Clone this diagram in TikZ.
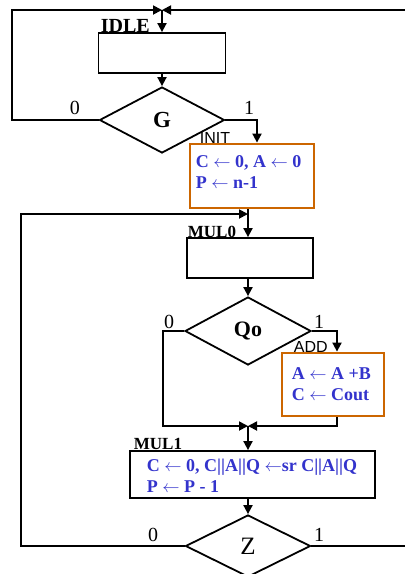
\documentclass[tikz,border=0pt]{standalone}
\usepackage{fontspec}
\setmainfont{Liberation Serif}
\setsansfont{Liberation Sans}
\usetikzlibrary{positioning,arrows.meta,shapes.geometric}
\definecolor{opframe}{RGB}{204,102,0}
\definecolor{optext}{RGB}{51,51,204}
\newcommand{\getsval}{\ensuremath{\leftarrow}}
\tikzset{
  blkbox/.style={draw,line width=1.8pt,inner sep=0pt},
  opbox/.style={draw=opframe,line width=2.8pt,inner sep=0pt},
  test/.style={diamond,draw,line width=1.8pt,inner sep=0pt},
  stname/.style={font=\fontsize{17}{20}\selectfont\bfseries,inner sep=0pt,anchor=base west},
  stsans/.style={font=\fontsize{16}{19}\sffamily,inner sep=0pt,anchor=base west},
  optxt/.style={font=\fontsize{18}{21}\selectfont\bfseries,text=optext,align=left,inner sep=0pt,anchor=base west},
  brlbl/.style={font=\fontsize{20}{22}\selectfont,inner sep=0pt}
}
\begin{document}
\begin{tikzpicture}[x=1pt,y=-1pt,>={Triangle[length=9pt,width=9pt]},line width=1.8pt]
  \useasboundingbox (0,0) rectangle (405,574);
  \clip (0,0) rectangle (405,574);
  % states
  \coordinate (top) at (162,10);
  \node[blkbox,minimum width=127pt,minimum height=40pt] (idle) at (162,53) {};
  \node[test,minimum width=125pt,minimum height=66pt] (g) at (162,120) {\fontsize{23}{25}\selectfont\bfseries G};
  \node[opbox,minimum width=124pt,minimum height=64pt] (init) at (252,176) {};
  \coordinate (j1) at (248,214);
  \node[blkbox,minimum width=126pt,minimum height=40pt] (mul0) at (250,258) {};
  \node[test,minimum width=126pt,minimum height=68pt] (qo) at (248,331) {\fontsize{22}{24}\selectfont\bfseries Qo};
  \node[opbox,minimum width=102pt,minimum height=63pt] (add) at (333,384.5) {};
  \coordinate (j2) at (248,426);
  \node[blkbox,minimum width=245pt,minimum height=47pt] (mul1) at (252.5,474.5) {};
  \node[test,minimum width=125pt,minimum height=62pt] (z) at (248,546) {\fontsize{25}{27}\selectfont Z};
  % loop corners
  \coordinate (lft) at (12,10);
  \coordinate (rgt) at (430,10);
  \coordinate (lp) at (21,214);
  \coordinate (lq) at (163,426);
  % state names
  \node[stname] (idlelbl) at (100,32) {\fontsize{20}{22}\selectfont IDLE};
  \node[stsans] (initlbl) at (199,143) {INIT};
  \node[stname] (mul0lbl) at (187,237) {MUL0};
  \node[stsans] (addlbl) at (293,352) {ADD};
  \node[stname] (mul1lbl) at (133,449) {MUL1};
  % operations (base = last line)
  \node[optxt] (inittxt) at (195,188) {C \getsval{} 0, A \getsval{} 0\\P \getsval{} n-1};
  \node[optxt] (addtxt) at (291,400) {A \getsval{} A +B\\C \getsval{} Cout};
  \node[optxt] (mul1txt) at (146,492) {C \getsval{} 0, C||A||Q \getsval{}sr C||A||Q\\P \getsval{} P - 1};
  % branch values
  \node[brlbl] (g0) at (75,108) {0};
  \node[brlbl] (g1) at (249,108) {1};
  \node[brlbl] (qo0) at (169,322) {0};
  \node[brlbl] (qo1) at (319,322) {1};
  \node[brlbl] (z0) at (153,535) {0};
  \node[brlbl] (z1) at (319,535) {1};
  % connectors
  \draw[->] (g.west) -| (lft) -- (top);
  \draw[->] (z.east) -| (rgt) -- (top);
  \draw[->] (top) -- (idle.north);
  \draw[->] (idle.south) -- (g.north);
  \draw[->] (g.east) -| ([xshift=5pt]init.north);
  \draw[->] ([xshift=-4pt]init.south) -- (j1 |- mul0.north);
  \draw[->] (z.west) -| (lp) -- (j1);
  \draw[->] (qo.north |- mul0.south) -- (qo.north);
  \draw[->] (qo.west) -| (lq) -- (j2);
  \draw[->] (qo.east) -| ([xshift=4pt]add.north);
  \draw[->] ([xshift=4pt]add.south) |- (j2);
  \draw[->] (j2) -- (j2 |- mul1.north);
  \draw[->] (z.north |- mul1.south) -- (z.north);
\end{tikzpicture}
\end{document}
